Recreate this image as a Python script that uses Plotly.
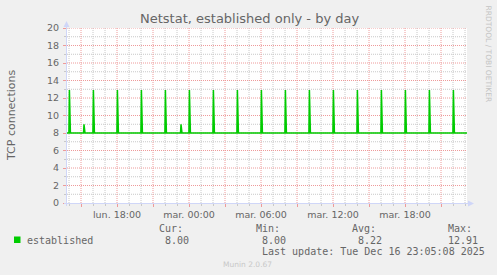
import plotly.graph_objects as go
import pandas as pd

# ---- data ----
baseline = 8.0
spike_times = [
    "2025-12-15 14:02", "2025-12-15 16:02", "2025-12-15 18:02", "2025-12-15 20:02",
    "2025-12-15 22:02", "2025-12-16 00:02", "2025-12-16 02:02", "2025-12-16 04:02",
    "2025-12-16 06:02", "2025-12-16 08:02", "2025-12-16 10:02", "2025-12-16 12:02",
    "2025-12-16 14:02", "2025-12-16 16:02", "2025-12-16 18:02", "2025-12-16 20:02",
    "2025-12-16 22:02",
]
spike_peaks = [12.9, 12.9, 12.9, 12.9, 12.9, 12.91, 12.9, 12.9, 12.9,
               12.9, 12.9, 12.9, 12.9, 12.9, 12.9, 12.9, 12.9]
small_spike_times = ["2025-12-15 15:15", "2025-12-15 23:20"]
small_spike_peaks = [9.0, 9.0]

x_start = "2025-12-15 13:50"
x_end = "2025-12-16 23:10"
label_ticks = ["2025-12-15 18:00", "2025-12-16 00:00", "2025-12-16 06:00",
               "2025-12-16 12:00", "2025-12-16 18:00"]
label_texts = ["lun. 18:00", "mar. 00:00", "mar. 06:00", "mar. 12:00", "mar. 18:00"]
major_ticks = ["2025-12-15 15:00", "2025-12-15 18:00", "2025-12-15 21:00",
               "2025-12-16 00:00", "2025-12-16 03:00", "2025-12-16 06:00",
               "2025-12-16 09:00", "2025-12-16 12:00", "2025-12-16 15:00",
               "2025-12-16 18:00", "2025-12-16 21:00"]

series_name = "established"
cur_val, min_val, avg_val, max_val = "8.00", "8.00", "8.22", "12.91"
last_update = "Last update: Tue Dec 16 23:05:08 2025"
title_text = "Netstat, established only - by day"
ylabel = "TCP connections"

# ---- build the line: each spike is one 5-minute sample ----
step = pd.Timedelta(minutes=5)
events = sorted(
    [(pd.Timestamp(t), v) for t, v in zip(spike_times, spike_peaks)]
    + [(pd.Timestamp(t), v) for t, v in zip(small_spike_times, small_spike_peaks)]
)
xs = [pd.Timestamp(x_start)]
ys = [baseline]
for t, v in events:
    xs += [t - step / 2, t, t + step]
    ys += [baseline, v, baseline]
xs.append(pd.Timestamp(x_end))
ys.append(baseline)

FONT = "#666666"
MAJ = "#EE9A9A"
MIN = "#C8C8C8"
AXC = "#CFD6F8"
GREEN = "#00CC00"

fig = go.Figure()
fig.add_trace(go.Scatter(x=xs, y=ys, mode="lines",
                         line=dict(color=GREEN, width=1.5), showlegend=False,
                         hoverinfo="skip"))

tickvals = [pd.Timestamp(t) for t in major_ticks]
lab = dict(zip([pd.Timestamp(t) for t in label_ticks], label_texts))
ticktext = [lab.get(t, "") for t in tickvals]

hours = pd.date_range(pd.Timestamp(x_start).ceil("h"), pd.Timestamp(x_end), freq="h")
minor_x = [h for h in hours if h not in set(tickvals)]
major_y = list(range(2, 21, 2))
minor_y = list(range(1, 20, 2))

fig.update_xaxes(
    type="date", range=[pd.Timestamp(x_start), pd.Timestamp(x_end)],
    tickmode="array", tickvals=tickvals, ticktext=ticktext,
    showgrid=False, ticks="outside", ticklen=3, tickcolor=MAJ, tickwidth=1,
    minor=dict(tickmode="array", tickvals=minor_x, showgrid=False,
               ticks="outside", ticklen=2, tickcolor=MIN),
    tickfont=dict(family="DejaVu Sans", size=9.5, color=FONT),
    showline=False, zeroline=False, fixedrange=True,
)
fig.update_yaxes(
    range=[0, 20], tickmode="linear", tick0=0, dtick=2,
    showgrid=False, ticks="outside", ticklen=3, tickcolor=MAJ, tickwidth=1,
    minor=dict(tickmode="array", tickvals=minor_y, showgrid=False,
               ticks="outside", ticklen=2, tickcolor=MIN),
    tickfont=dict(family="DejaVu Sans", size=9.5, color=FONT),
    ticklabelstandoff=2,
    showline=False, zeroline=False, fixedrange=True,
)

L, R, T, B = 67, 467, 28, 203
def px(p):
    return (p - L) / (R - L)
def py(p):
    return (B - p) / (B - T)

shapes = []
# grid lines (minor first, then major on top)
for h in minor_x:
    shapes.append(dict(type="line", xref="x", yref="paper", x0=h, x1=h, y0=0, y1=1,
                       layer="below", line=dict(color=MIN, width=1, dash="1px,1px")))
for v in minor_y:
    shapes.append(dict(type="line", xref="paper", yref="y", x0=0, x1=1, y0=v, y1=v,
                       layer="below", line=dict(color=MIN, width=1, dash="1px,1px")))
for h in tickvals:
    shapes.append(dict(type="line", xref="x", yref="paper", x0=h, x1=h, y0=0, y1=1,
                       layer="below", line=dict(color=MAJ, width=1, dash="1px,1px")))
for v in major_y:
    shapes.append(dict(type="line", xref="paper", yref="y", x0=0, x1=1, y0=v, y1=v,
                       layer="below", line=dict(color=MAJ, width=1, dash="1px,1px")))

shapes += [
    # axes
    dict(type="line", xref="paper", yref="paper", x0=px(66.5), x1=px(66.5),
         y0=py(206), y1=py(25), line=dict(color=AXC, width=1)),
    dict(type="line", xref="paper", yref="paper", x0=px(64), x1=px(470),
         y0=py(203.5), y1=py(203.5), line=dict(color=AXC, width=1)),
    # arrows
    dict(type="path", xref="paper", yref="paper",
         path=f"M {px(66.5)},{py(21)} L {px(63.5)},{py(27)} L {px(69.5)},{py(27)} Z",
         fillcolor=AXC, line=dict(color=AXC, width=0)),
    dict(type="path", xref="paper", yref="paper",
         path=f"M {px(474)},{py(203.5)} L {px(468)},{py(200.5)} L {px(468)},{py(206.5)} Z",
         fillcolor=AXC, line=dict(color=AXC, width=0)),
    # legend swatch
    dict(type="rect", xref="paper", yref="paper", x0=px(14), x1=px(20.5),
         y0=py(243), y1=py(236.5), fillcolor=GREEN, line=dict(width=0)),
]

def ann(text, x, y, size=10, family="DejaVu Sans Mono", color=FONT,
        xanchor="left", angle=0):
    return dict(text=text, x=px(x), y=py(y), xref="paper", yref="paper",
                showarrow=False, xanchor=xanchor, yanchor="middle",
                textangle=angle, borderpad=0,
                font=dict(family=family, size=size, color=color))

annotations = [
    ann(title_text, 249, 18.5, size=13, family="DejaVu Sans", xanchor="center"),
    ann(ylabel, 11, 115, size=11, family="DejaVu Sans", xanchor="center", angle=-90),
    ann("RRDTOOL / TOBI OETIKER", 488, 53.5, size=7.5, family="DejaVu Sans",
        color="#C4C4C4", xanchor="center", angle=90),
    ann(series_name, 26, 240),
    ann("Cur:", 158, 228),
    ann(cur_val, 164, 240),
    ann("Min:", 255, 228),
    ann(min_val, 261, 240),
    ann("Avg:", 351, 228),
    ann(avg_val, 357, 240),
    ann("Max:", 447, 228),
    ann(max_val, 447, 240),
    ann(last_update, 261, 251.5),
    ann("Munin 2.0.67", 247.5, 264, size=7.5, family="DejaVu Sans",
        color="#C8C8C8", xanchor="center"),
]

fig.update_layout(
    width=497, height=275, autosize=False,
    margin=dict(l=L, r=497 - R, t=T, b=275 - B),
    paper_bgcolor="#F0F0F0", plot_bgcolor="#FFFFFF",
    shapes=shapes, annotations=annotations, showlegend=False,
)

fig.write_html("out.html", config={"displayModeBar": False})
